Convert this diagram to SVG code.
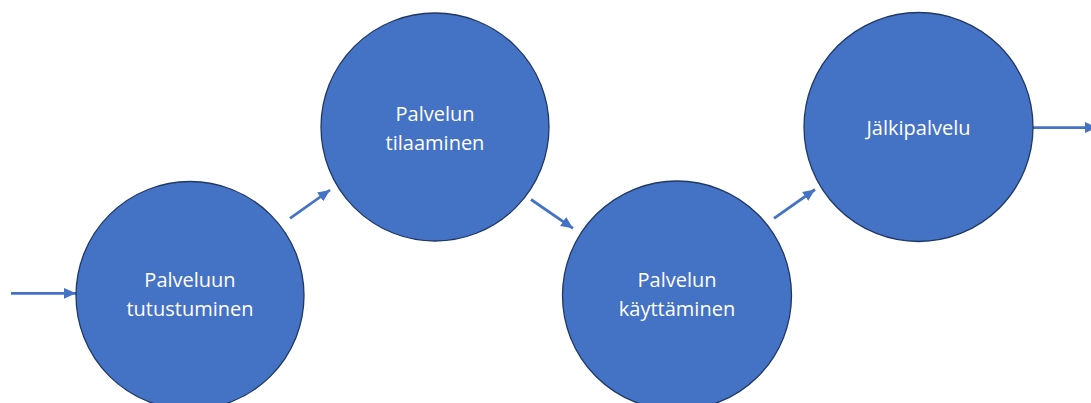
<svg xmlns="http://www.w3.org/2000/svg" width="1091" height="403" viewBox="0 0 1091 403">
<style>
.node circle{fill:#4472C4;stroke:#1F3864;stroke-width:1.3}
.node text{fill:#FFFFFF;font-family:"Open Sans","Noto Sans","Liberation Sans",sans-serif;font-size:20px;text-anchor:middle}
.conn line{stroke:#4472C4;stroke-width:2.75;fill:none}
</style>
<defs>
<marker id="ah" markerUnits="userSpaceOnUse" markerWidth="12" markerHeight="12" viewBox="0 0 10 10" refX="10" refY="5" orient="auto">
<path d="M0,0.5 L10,5 L0,9.5 Z" fill="#4472C4"/>
</marker>
</defs>
<rect width="1091" height="403" fill="#FFFFFF"/>
<g id="connectors" class="conn">
<line x1="11" y1="293.3" x2="76" y2="293.3" marker-end="url(#ah)"/>
<line x1="290" y1="218.3" x2="330" y2="190" marker-end="url(#ah)"/>
<line x1="531" y1="199.5" x2="573" y2="228.3" marker-end="url(#ah)"/>
<line x1="774" y1="218.3" x2="815" y2="189.5" marker-end="url(#ah)"/>
<line x1="1033" y1="127.5" x2="1097" y2="127.5" marker-end="url(#ah)"/>
</g>
<g id="node1" class="node">
<circle cx="190" cy="295.5" r="114"/>
<text x="190" y="287">Palveluun</text>
<text x="190" y="316">tutustuminen</text>
</g>
<g id="node2" class="node">
<circle cx="435" cy="127" r="114"/>
<text x="435" y="121">Palvelun</text>
<text x="435" y="150">tilaaminen</text>
</g>
<g id="node3" class="node">
<circle cx="677" cy="295.5" r="114.5"/>
<text x="677" y="287">Palvelun</text>
<text x="677" y="316">käyttäminen</text>
</g>
<g id="node4" class="node">
<circle cx="918.5" cy="127" r="114.5"/>
<text x="918.5" y="135">Jälkipalvelu</text>
</g>
</svg>
